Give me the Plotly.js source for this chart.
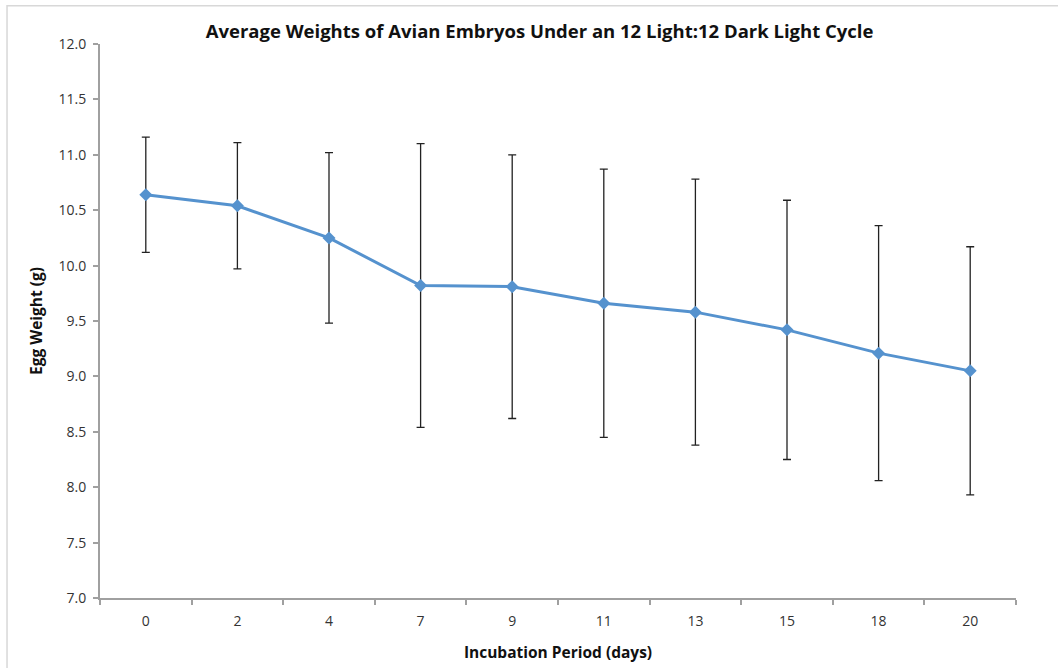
<!DOCTYPE html>
<html>
<head>
<meta charset="utf-8">
<script src="https://cdn.plot.ly/plotly-3.0.1.min.js"></script>
<style>html,body{margin:0;padding:0;background:#fff;}#chart{width:1058px;height:668px;}</style>
</head>
<body>
<div id="chart"></div>
<script>
const days = ["0", "2", "4", "7", "9", "11", "13", "15", "18", "20"];
const weights = [10.64, 10.54, 10.25, 9.82, 9.81, 9.66, 9.58, 9.42, 9.21, 9.05];
const errors = [0.52, 0.57, 0.77, 1.28, 1.19, 1.21, 1.20, 1.17, 1.15, 1.12];
const yTicks = [7.0, 7.5, 8.0, 8.5, 9.0, 9.5, 10.0, 10.5, 11.0, 11.5, 12.0];

const trace = {
  x: days,
  y: weights,
  type: 'scatter',
  mode: 'lines+markers',
  line: {color: '#5592CE', width: 3},
  marker: {symbol: 'diamond', size: 10, color: '#5592CE'},
  error_y: {type: 'data', array: errors, visible: true, color: '#222', thickness: 1.3, width: 4},
  hoverinfo: 'x+y'
};

const layout = {
  width: 1058, height: 668,
  margin: {l: 100, r: 42, t: 44, b: 70},
  paper_bgcolor: '#fff', plot_bgcolor: '#fff',
  showlegend: false,
  font: {family: 'Open Sans, sans-serif', color: '#222'},
  title: {text: '<b>Average Weights of Avian Embryos Under an 12 Light:12 Dark Light Cycle</b>',
          x: 0.51, xanchor: 'center', y: 0.953, yanchor: 'middle',
          font: {size: 18.5, family: 'Open Sans, sans-serif', color: '#111'}},
  xaxis: {
    type: 'category', range: [-0.5, days.length - 0.5], tickson: 'boundaries', ticks: 'outside', ticklen: 5, tickwidth: 2, tickcolor: '#a0a0a0',
    showline: true, linecolor: '#a0a0a0', linewidth: 2, showgrid: false, zeroline: false, automargin: false,
    tickfont: {size: 14, color: '#333'}, ticklabelstandoff: 9,
    title: {text: '<b>Incubation Period (days)</b>', font: {size: 15.5, color: '#111'}, standoff: 18}
  },
  yaxis: {
    range: [7, 12], tickvals: yTicks, ticktext: yTicks.map(v => v.toFixed(1)),
    ticks: 'outside', ticklen: 5, tickwidth: 2, tickcolor: '#a0a0a0', automargin: false,
    showline: true, linecolor: '#a0a0a0', linewidth: 2, showgrid: false, zeroline: false,
    tickfont: {size: 14, color: '#333'}, ticklabelstandoff: 4,
    title: {text: '<b>Egg Weight (g)</b>', font: {size: 15.5, color: '#111'}, standoff: 12}
  },
  shapes: [{type: 'rect', xref: 'paper', yref: 'paper', x0: -0.1015, x1: 1.1, y0: -0.2, y1: 1.069,
            line: {color: '#d8d8d8', width: 1.5}, fillcolor: 'rgba(0,0,0,0)', layer: 'below'}]
};

Plotly.newPlot('chart', [trace], layout, {displayModeBar: false, staticPlot: true});
</script>
</body>
</html>
